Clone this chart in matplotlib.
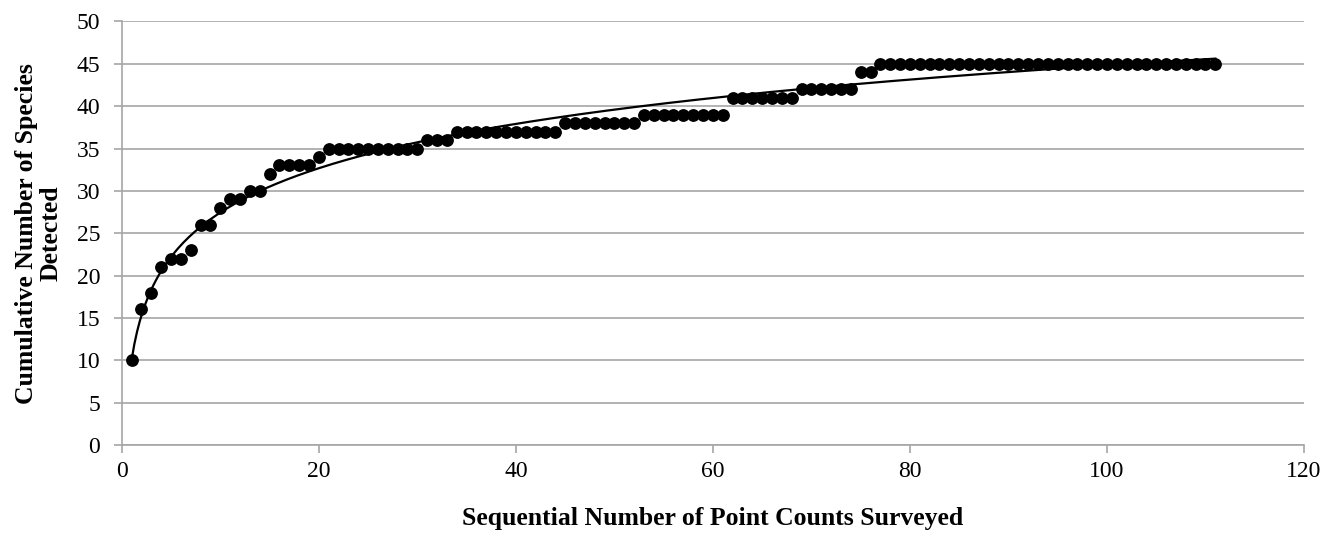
import numpy as np
import matplotlib
matplotlib.use("Agg")
import matplotlib.pyplot as plt

# cumulative species count after each point count
point_counts = np.arange(1, 112)
species = np.array(
    [10, 16, 18, 21, 22, 22, 23, 26, 26, 28,
     29, 29, 30, 30, 32, 33, 33, 33, 33, 34]
    + [35] * 10
    + [36] * 3
    + [37] * 11
    + [38] * 8
    + [39] * 9
    + [41] * 7
    + [42] * 6
    + [44] * 2
    + [45] * 35
)

x_ticks = [0, 20, 40, 60, 80, 100, 120]
y_ticks = list(range(0, 55, 5))
x_label = "Sequential Number of Point Counts Surveyed"
y_label = "Cumulative Number of Species\nDetected"


def main():
    plt.rcParams['font.family'] = ['Liberation Serif', 'DejaVu Serif']
    grid_col = '#a6a6a6'

    fig = plt.figure(figsize=(13.38, 5.47), dpi=100)
    ax = fig.add_axes([0.091, 0.1865, 0.8836, 0.7742])

    # logarithmic trend line
    a, b = np.polyfit(np.log(point_counts), species, 1)
    xs = np.linspace(point_counts[0], point_counts[-1], 400)
    ax.plot(xs, a * np.log(xs) + b, color='k', linewidth=1.6, zorder=3)

    ax.plot(point_counts, species, linestyle='none', marker='o',
            markersize=8.2, color='k', zorder=4)

    ax.set_xlim(0, 120)
    ax.set_ylim(0, 50)
    ax.set_xticks(x_ticks)
    ax.set_yticks(y_ticks)
    ax.grid(axis='y', color=grid_col, linewidth=1.2)
    ax.set_axisbelow(True)

    for s in ['top', 'right']:
        ax.spines[s].set_visible(False)
    for s in ['left', 'bottom']:
        ax.spines[s].set_color(grid_col)
        ax.spines[s].set_linewidth(1.2)
    ax.tick_params(axis='both', direction='out', length=5.5, width=1.2,
                   color=grid_col, labelsize=17)
    ax.tick_params(axis='y', pad=10)
    ax.tick_params(axis='x', pad=6)

    ax.set_xlabel(x_label, fontsize=18.5, fontweight='bold', labelpad=18)
    ax.set_ylabel(y_label, fontsize=18.5, fontweight='bold', labelpad=10,
                  linespacing=1.1)

    fig.savefig("out.png", dpi=100)


if __name__ == "__main__":
    main()
